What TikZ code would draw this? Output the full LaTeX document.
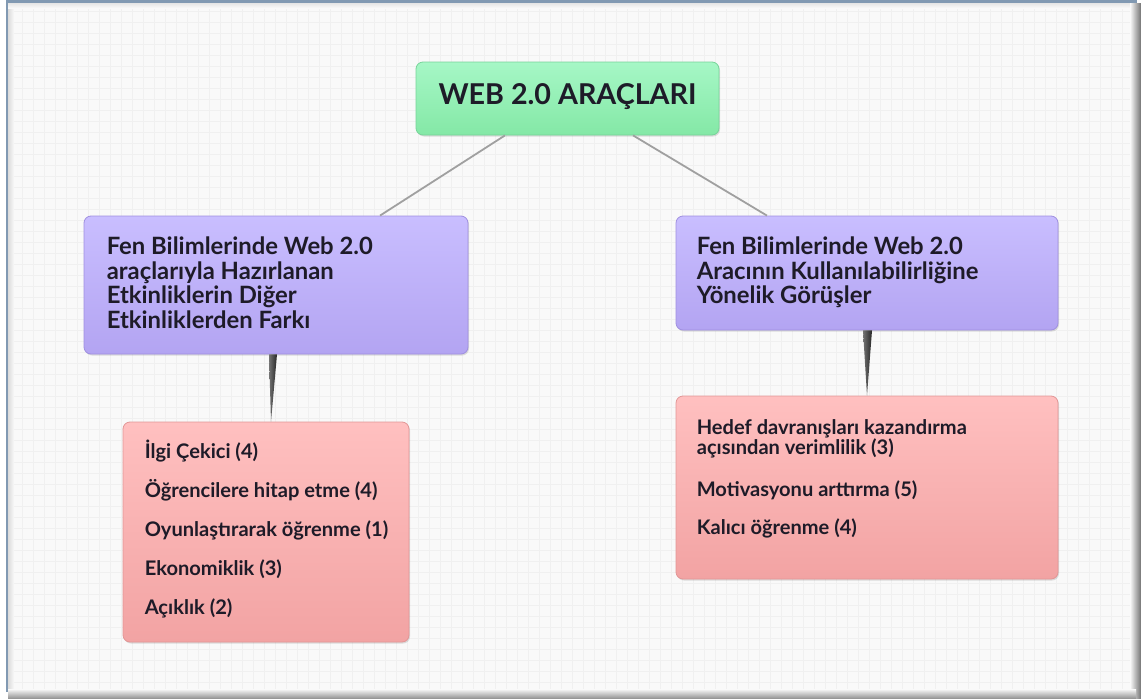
\documentclass[tikz,border=0pt]{standalone}
\usepackage{fontspec}
\setmainfont{Lato}
\usetikzlibrary{shadows,calc}
\definecolor{bgc}{HTML}{F9F9F9}
\definecolor{gridc}{HTML}{F0F0F0}
\definecolor{edgeblue}{HTML}{8199B2}
\definecolor{gTop}{HTML}{A6F7C6}
\definecolor{gBot}{HTML}{84E8A6}
\definecolor{gBor}{HTML}{78D49A}
\definecolor{pTop}{HTML}{C9BEFF}
\definecolor{pBot}{HTML}{B3A4F2}
\definecolor{pBor}{HTML}{A090E0}
\definecolor{rTop}{HTML}{FFC0C0}
\definecolor{rBot}{HTML}{F2A3A3}
\definecolor{rBor}{HTML}{E29696}
\definecolor{txt}{HTML}{1E1B28}
\definecolor{linec}{HTML}{A0A0A0}
\newlength\fitw
\newcommand\fitsz[3]{\settowidth{\fitw}{\normalfont\fontsize{10pt}{12pt}\selectfont\bfseries #2}\pgfmathsetmacro#1{10*#3/\the\fitw}}
\tikzset{
  box/.style={rounded corners=7pt, draw, line width=0.8pt, inner sep=0pt,
    drop shadow={shadow xshift=1pt, shadow yshift=-1.5pt, opacity=0.25}},
  greenbox/.style={box, top color=gTop, bottom color=gBot, draw=gBor},
  purplebox/.style={box, top color=pTop, bottom color=pBot, draw=pBor},
  pinkbox/.style={box, top color=rTop, bottom color=rBot, draw=rBor},
  conn/.style={draw=linec, line width=1.8pt},
  taper/.style={left color=black!55, right color=black!85},
  roottxt/.style={anchor=base, inner sep=0pt, text=txt, font=\fontsize{\rootsz pt}{\rootsz pt}\selectfont\bfseries},
  headtxt/.style={anchor=base west, inner sep=0pt, text=txt, font=\fontsize{\headsz pt}{\headsz pt}\selectfont\bfseries},
  itemtxt/.style={anchor=base west, inner sep=0pt, text=txt, font=\fontsize{\itemsz pt}{\itemsz pt}\selectfont\bfseries}
}
\begin{document}
\fitsz{\rootsz}{WEB 2.0 ARAÇLARI}{258}%
\fitsz{\headsz}{Fen Bilimlerinde Web 2.0}{266}%
\fitsz{\itemsz}{Hedef davranışları kazandırma}{270}%
\begin{tikzpicture}[x=1pt, y=-1pt]
\useasboundingbox (0,0) rectangle (1141,699);
% frame and background
\fill[white] (0,0) rectangle (1141,699);
\fill[bgc] (8,3) rectangle (1136,690);
\draw[gridc, line width=0.5pt, step=11pt] (8,3) grid (1136,690);
\shade[left color=black!14, right color=bgc] (8,3) rectangle (14,690);
\shade[top color=black!10, bottom color=bgc] (8,3) rectangle (1136,8);
\shade[left color=bgc, right color=black!55] (1130,3) rectangle (1141,699);
\shade[top color=bgc, bottom color=black!45] (8,689) rectangle (1136,699);
\fill[edgeblue] (5.5,0) rectangle (8,692);
\fill[edgeblue] (5.5,0) rectangle (1137,2.5);
% boxes
\node[greenbox, minimum width=303pt, minimum height=73pt] (root) at (567.5,98.5) {};
\node[purplebox, minimum width=384pt, minimum height=138pt] (lp) at (276,285) {};
\node[purplebox, minimum width=382pt, minimum height=114pt] (rp) at (867,273) {};
\node[pinkbox, minimum width=286pt, minimum height=220pt] (lk) at (266,532) {};
\node[pinkbox, minimum width=382pt, minimum height=183pt] (rk) at (867,487.5) {};
% connectors
\draw[conn] ([xshift=-62.5pt]root.south) -- ([xshift=104pt]lp.north);
\draw[conn] ([xshift=65.5pt]root.south) -- ([xshift=-100pt]rp.north);
\shade[taper] ([xshift=-7pt]lp.south) -- ([xshift=1pt]lp.south) -- ([xshift=5pt]lk.north) -- cycle;
\shade[taper] ([xshift=-4pt]rp.south) -- ([xshift=5pt]rp.south) -- (rk.north) -- cycle;
% texts
\node[roottxt] (roott) at ($(root.north)+(0,43)$) {WEB 2.0 ARAÇLARI};
\foreach \t [count=\i] in {Fen Bilimlerinde Web 2.0, araçlarıyla Hazırlanan, Etkinliklerin Diğer, Etkinliklerden Farkı}
  \node[headtxt] (lpt\i) at ($(lp.north west)+(23,39+24.5*\i-24.5)$) {\t};
\foreach \t [count=\i] in {Fen Bilimlerinde Web 2.0, Aracının Kullanılabilirliğine, Yönelik Görüşler}
  \node[headtxt] (rpt\i) at ($(rp.north west)+(21,39+24.5*\i-24.5)$) {\t};
\foreach \t [count=\i] in {İlgi Çekici (4), Öğrencilere hitap etme (4), Oyunlaştırarak öğrenme (1), Ekonomiklik (3), Açıklık (2)}
  \node[itemtxt] (lkt\i) at ($(lk.north west)+(22,37+39*\i-39)$) {\t};
\foreach \t/\dy [count=\i] in {Hedef davranışları kazandırma/39, açısından verimlilik (3)/58.5, Motivasyonu arttırma (5)/101, Kalıcı öğrenme (4)/139}
  \node[itemtxt] (rkt\i) at ($(rk.north west)+(21,\dy)$) {\t};
\end{tikzpicture}
\end{document}
